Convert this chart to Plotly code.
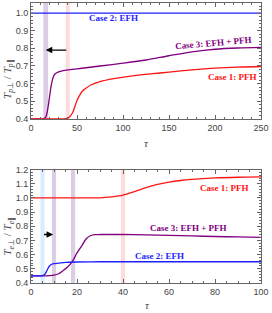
import plotly.graph_objects as go

# ---------------- data: top panel (protons) ----------------
tau_top_case2 = [0, 50, 100, 150, 200, 250]
val_top_case2 = [1.0, 1.0, 1.0, 1.0, 1.0, 1.0]

tau_top_case3 = [0, 10, 14, 16, 18, 20, 22, 24, 26, 30, 35, 40, 50, 60, 75, 100, 125, 150, 175, 200, 225, 250]
val_top_case3 = [0.40, 0.40, 0.402, 0.41, 0.45, 0.52, 0.59, 0.635, 0.655, 0.667, 0.674, 0.678, 0.684, 0.690,
                 0.700, 0.716, 0.734, 0.758, 0.780, 0.795, 0.802, 0.805]

tau_top_case1 = [0, 30, 38, 40, 42, 44, 46, 48, 50, 53, 56, 60, 65, 75, 90, 110, 130, 150, 175, 200, 225, 250]
val_top_case1 = [0.40, 0.40, 0.402, 0.405, 0.412, 0.425, 0.445, 0.475, 0.505, 0.535, 0.558, 0.575, 0.592, 0.611,
                 0.628, 0.644, 0.655, 0.665, 0.678, 0.688, 0.694, 0.697]

band_top_centers = [16, 40]
band_top_halfwidths = [2.6, 2.2]
band_top_colors = ["rgba(140,100,170,0.32)", "rgba(255,140,140,0.30)"]

# ---------------- data: bottom panel (electrons) ----------------
tau_bot_case1 = [0, 20, 30, 35, 40, 45, 50, 55, 60, 65, 70, 80, 90, 100]
val_bot_case1 = [1.0, 1.0, 1.001, 1.008, 1.02, 1.045, 1.073, 1.095, 1.111, 1.123, 1.131, 1.141, 1.146, 1.148]

tau_bot_case3 = [0, 5, 8, 10, 12, 14, 16, 18, 20, 22, 24, 26, 28, 30, 40, 50, 60, 70, 80, 90, 100]
val_bot_case3 = [0.45, 0.45, 0.452, 0.455, 0.465, 0.488, 0.515, 0.553, 0.612, 0.66, 0.712, 0.735, 0.741, 0.742,
                 0.742, 0.740, 0.736, 0.732, 0.728, 0.725, 0.722]

tau_bot_case2 = [0, 4, 5, 6, 7, 8, 9, 10, 12, 15, 20, 30, 50, 100]
val_bot_case2 = [0.45, 0.45, 0.452, 0.462, 0.49, 0.52, 0.532, 0.537, 0.540, 0.545, 0.548, 0.55, 0.55, 0.55]

band_bot_centers = [5, 10, 18.3, 40]
band_bot_halfwidths = [0.9, 0.9, 0.9, 0.9]
band_bot_colors = ["rgba(150,200,255,0.35)", "rgba(140,100,170,0.32)", "rgba(140,100,170,0.32)",
                   "rgba(255,140,140,0.30)"]

BLUE = "rgb(30,30,255)"
RED = "rgb(255,20,20)"
PURPLE = "rgb(128,0,128)"

fig = go.Figure()

def add_line(x, y, color, xa, ya):
    fig.add_trace(go.Scatter(x=x, y=y, mode="lines", line=dict(color=color, width=1.3, shape="spline", smoothing=0.8),
                             xaxis=xa, yaxis=ya, showlegend=False, hoverinfo="skip"))

add_line(tau_top_case2, val_top_case2, BLUE, "x", "y")
add_line(tau_top_case3, val_top_case3, PURPLE, "x", "y")
add_line(tau_top_case1, val_top_case1, RED, "x", "y")

add_line(tau_bot_case1, val_bot_case1, RED, "x2", "y2")
add_line(tau_bot_case3, val_bot_case3, PURPLE, "x2", "y2")
add_line(tau_bot_case2, val_bot_case2, BLUE, "x2", "y2")

shapes = []
for c, h, col in zip(band_top_centers, band_top_halfwidths, band_top_colors):
    shapes.append(dict(type="rect", xref="x", yref="y domain", x0=c - h, x1=c + h, y0=0, y1=1,
                       fillcolor=col, line=dict(width=0), layer="below"))
for c, h, col in zip(band_bot_centers, band_bot_halfwidths, band_bot_colors):
    shapes.append(dict(type="rect", xref="x2", yref="y2 domain", x0=c - h, x1=c + h, y0=0, y1=1,
                       fillcolor=col, line=dict(width=0), layer="below"))

tickfont = dict(family="Liberation Sans, Arial", size=9, color="#444")
axcommon = dict(showline=True, linecolor="#666", linewidth=1, mirror="ticks", ticks="inside", ticklen=4,
                tickcolor="#666", tickwidth=0.8, showgrid=False, zeroline=False, tickfont=tickfont,
                automargin=False, ticklabeloverflow="allow")

fig.update_layout(
    template="none",
    width=272, height=313,
    margin=dict(l=31, r=11, t=3, b=30),
    plot_bgcolor="white", paper_bgcolor="white",
    showlegend=False,
    shapes=shapes,
    xaxis=dict(domain=[0, 1], range=[0, 250], anchor="y", tickvals=[0, 50, 100, 150, 200, 250],
               minor=dict(ticks="inside", ticklen=2, dtick=10, tickcolor="#666"), **axcommon),
    yaxis=dict(domain=[0.586, 1], range=[0.4, 1.057], anchor="x", dtick=0.1, tick0=0.4, tickformat=".1f",
               minor=dict(ticks="inside", ticklen=2, dtick=0.02, tickcolor="#666"), **axcommon),
    xaxis2=dict(domain=[0, 1], range=[0, 100], anchor="y2", tickvals=[0, 20, 40, 60, 80, 100],
                minor=dict(ticks="inside", ticklen=2, dtick=5, tickcolor="#666"), **axcommon),
    yaxis2=dict(domain=[0, 0.405], range=[0.4, 1.2], anchor="x2", dtick=0.1, tick0=0.4, tickformat=".1f",
                minor=dict(ticks="inside", ticklen=2, dtick=0.02, tickcolor="#666"), **axcommon),
)

serif = "Liberation Serif, Times New Roman, serif"
ann = []
# axis titles
ann.append(dict(xref="paper", yref="paper", x=-0.1, y=0.729, xanchor="center", yanchor="middle",
                text="<i>T</i><sub><i>p</i>⊥</sub> / <i>T</i><sub><i>p</i>∥</sub>",
                textangle=-90, showarrow=False, font=dict(family=serif, size=11, color="#444")))
ann.append(dict(xref="paper", yref="paper", x=-0.1, y=0.166, xanchor="center", yanchor="middle",
                text="<i>T</i><sub><i>e</i>⊥</sub> / <i>T</i><sub><i>e</i>∥</sub>",
                textangle=-90, showarrow=False, font=dict(family=serif, size=11, color="#444")))
ann.append(dict(xref="paper", yref="paper", x=0.502, y=0.5, xanchor="center", yanchor="middle",
                text="<i>τ</i>", showarrow=False, font=dict(family=serif, size=11, color="#444")))
ann.append(dict(xref="paper", yref="paper", x=0.506, y=-0.079, xanchor="center", yanchor="middle",
                text="<i>τ</i>", showarrow=False, font=dict(family=serif, size=11, color="#444")))

# case labels, top
ann.append(dict(xref="x", yref="y", x=90, y=0.972, text="<b>Case 2: EFH</b>", showarrow=False,
                font=dict(family=serif, size=9, color=BLUE)))
ann.append(dict(xref="x", yref="y", x=198, y=0.83, text="<b>Case 3: EFH + PFH</b>", showarrow=False, textangle=-5,
                font=dict(family=serif, size=9, color=PURPLE)))
ann.append(dict(xref="x", yref="y", x=219, y=0.64, text="<b>Case 1: PFH</b>", showarrow=False,
                font=dict(family=serif, size=9, color=RED)))
# case labels, bottom
ann.append(dict(xref="x2", yref="y2", x=84, y=1.073, text="<b>Case 1: PFH</b>", showarrow=False,
                font=dict(family=serif, size=9, color=RED)))
ann.append(dict(xref="x2", yref="y2", x=68.4, y=0.785, text="<b>Case 3: EFH + PFH</b>", showarrow=False,
                font=dict(family=serif, size=9, color=PURPLE)))
ann.append(dict(xref="x2", yref="y2", x=55.8, y=0.593, text="<b>Case 2: EFH</b>", showarrow=False,
                font=dict(family=serif, size=9, color=BLUE)))

# arrows
ann.append(dict(xref="x", yref="y", axref="x", ayref="y", x=16, y=0.79, ax=40, ay=0.79, text="",
                showarrow=True, arrowhead=2, arrowsize=1, arrowwidth=1.3, arrowcolor="black"))
ann.append(dict(xref="x2", yref="y2", axref="x2", ayref="y2", x=9.6, y=0.742, ax=5, ay=0.742, text="",
                showarrow=True, arrowhead=2, arrowsize=1, arrowwidth=1.3, arrowcolor="black"))

fig.update_layout(annotations=ann)
fig.write_html("out.html", config={"displayModeBar": False},
               post_script="document.body.style.margin='0px';document.body.style.padding='0px';")
